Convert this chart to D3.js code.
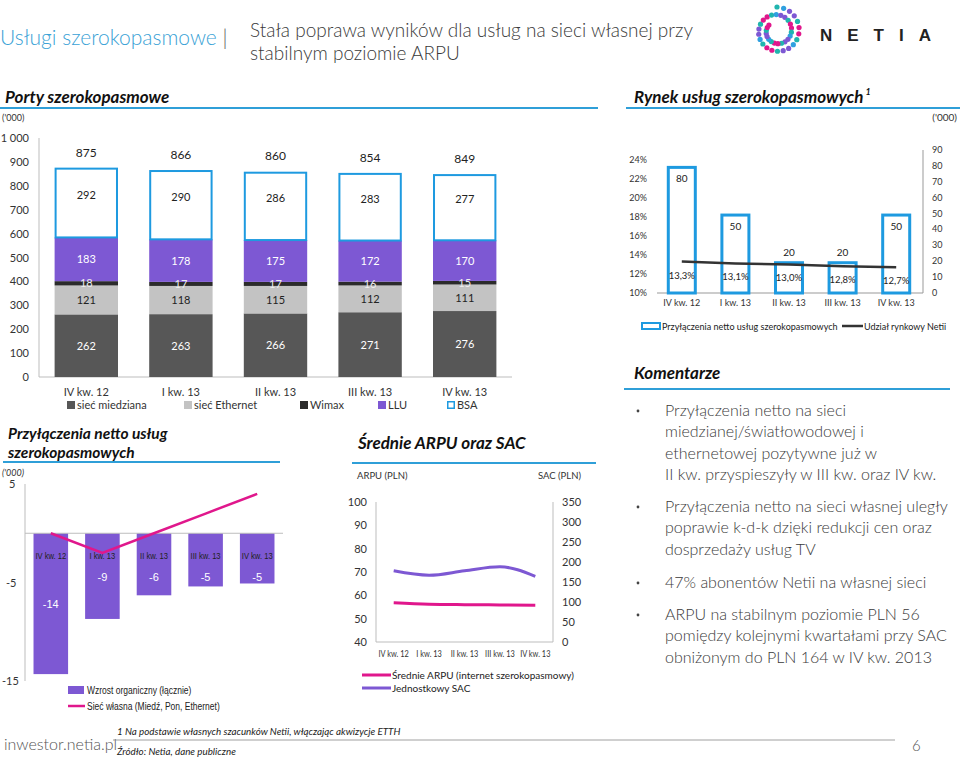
<!DOCTYPE html>
<html><head><meta charset="utf-8">
<script src="https://cdn.jsdelivr.net/npm/d3@7"></script>
<style>
body{margin:0;background:#fff;}
svg{display:block;font-family:Lato,"Open Sans",sans-serif;}
.narrow{font-family:"Liberation Sans",Arial,sans-serif;}
</style></head>
<body>
<script>
// ---------------- DATA ----------------
const quarters = ["IV kw. 12","I kw. 13","II kw. 13","III kw. 13","IV kw. 13"];
// Porty szerokopasmowe ('000)
const portSeries = ["sieć miedziana","sieć Ethernet","Wimax","LLU","BSA"];
const portsMiedz = [262,263,266,271,276];
const portsEth   = [121,118,115,112,111];
const portsWimax = [18,17,17,16,15];
const portsLLU   = [183,178,175,172,170];
const portsBSA   = [292,290,286,283,277];
const portsTotal = [875,866,860,854,849];
const portsTicks = [0,100,200,300,400,500,600,700,800,900,1000];
// Przyłączenia netto
const netOrganic = [-14.3,-8.7,-6.3,-5.4,-5.1];
const netOwn     = [0,-2,0,2,4];
const netTicks   = [5,-5,-15];
// ARPU / SAC
const arpu = [56.8,56.2,56.0,55.9,55.8];
const sac  = [178,167,178,188,164];
const arpuTicks = [40,50,60,70,80,90,100];
const sacTicks  = [0,50,100,150,200,250,300,350];
// Rynek
const marketAdds  = [80,50,20,20,50];
const marketShare = [13.3,13.1,13.0,12.8,12.7];
const shareTicks  = [10,12,14,16,18,20,22,24];
const addsTicks   = [0,10,20,30,40,50,60,70,80,90];
// Komentarze
const comments = [
 ["Przyłączenia netto na sieci","miedzianej/światłowodowej i","ethernetowej pozytywne już w","II kw. przyspieszyły w III kw. oraz IV kw."],
 ["Przyłączenia netto na sieci własnej uległy","poprawie k-d-k dzięki redukcji cen oraz","dosprzedaży usług TV"],
 ["47% abonentów Netii na własnej sieci"],
 ["ARPU na stabilnym poziomie PLN 56","pomiędzy kolejnymi kwartałami przy SAC","obniżonym do PLN 164 w IV kw. 2013"]
];

// ---------------- STYLE ----------------
const C = {blue:"#2f9fd8", barBlue:"#1e9ae0", purple:"#7d58d3", magenta:"#e0178c",
  dark:"#575757", light:"#c3c3c3", wimax:"#2b2b2b", text:"#333", axis:"#bdbdbd"};

const svg = d3.select("body").append("svg").attr("width",960).attr("height",759);
svg.append("rect").attr("width",960).attr("height",759).attr("fill","#fff");

// condense helper: narrows a text selection horizontally
function condense(sel, f){
  sel.each(function(){
    const w = this.getComputedTextLength();
    d3.select(this).attr("textLength", w*f).attr("lengthAdjust","spacingAndGlyphs");
  });
}

// ---------------- HEADER ----------------
const h = svg.append("text").attr("x",0).attr("y",45).attr("font-size",21).attr("font-weight",300);
h.append("tspan").attr("fill","#3aa2d6").text("Usługi szerokopasmowe");
h.append("tspan").attr("fill","#555").text(" |");
svg.append("text").attr("x",250).attr("y",37).attr("font-size",19).attr("font-weight",300).attr("fill","#3a3a3a")
  .text("Stała poprawa wyników dla usług na sieci własnej przy");
svg.append("text").attr("x",250).attr("y",60).attr("font-size",19).attr("font-weight",300).attr("fill","#3a3a3a")
  .text("stabilnym poziomie ARPU");

// logo
(function(){
  const g = svg.append("g");
  const cols = ["#20b5ae","#e0178c","#7d58d3","#2fa0e0","#e0178c","#20b5ae","#7d58d3"];
  const cx=777, cy=31;
  const n=42;
  for(let i=0;i<n;i++){
    const t=i/(n-1);
    const ang = -Math.PI/2 + t*Math.PI*2*1.85;
    const r = 24 - t*14;
    g.append("circle").attr("cx",cx+r*Math.cos(ang)).attr("cy",cy+r*Math.sin(ang))
      .attr("r",2.6).attr("fill",cols[(i*3)%7]);
  }
  svg.append("text").attr("x",820).attr("y",41).attr("font-size",17).attr("font-weight",700)
    .attr("letter-spacing",15).attr("fill","#222").attr("font-family","Liberation Sans, sans-serif").text("NETIA");
})();

function sectionTitle(lines,x,y,lineX1,lineX2,lineY,fs,gap){
  fs = fs||17; gap = gap||17;
  const ts = lines.map((t,i)=>svg.append("text").attr("x",x).attr("y",y+i*gap).attr("font-size",fs)
    .attr("font-weight",700).attr("font-style","italic").attr("fill","#111").text(t));
  svg.append("line").attr("x1",lineX1).attr("x2",lineX2).attr("y1",lineY).attr("y2",lineY)
    .attr("stroke",C.blue).attr("stroke-width",2);
  return ts;
}

// ---------------- PORTY ----------------
sectionTitle(["Porty szerokopasmowe"],5,103,0,598,108);
svg.append("text").attr("x",2).attr("y",121).attr("font-size",9).attr("fill","#333").text("('000)");
{
  const x = d3.scaleBand().domain(quarters).range([39,512]).paddingInner(0.33).paddingOuter(0.165);
  const y = d3.scaleLinear().domain([0,1000]).range([377,138]);
  const rows = quarters.map((q,i)=>({q,"sieć miedziana":portsMiedz[i],"sieć Ethernet":portsEth[i],
     "Wimax":portsWimax[i],"LLU":portsLLU[i],"BSA":portsBSA[i]}));
  const stack = d3.stack().keys(portSeries)(rows);
  const fills = {"sieć miedziana":C.dark,"sieć Ethernet":C.light,"Wimax":C.wimax,"LLU":C.purple,"BSA":"#fff"};
  const labCol = {"sieć miedziana":"#fff","sieć Ethernet":"#222","Wimax":"#eee","LLU":"#fff","BSA":"#222"};
  const g = svg.append("g");
  g.append("line").attr("x1",39).attr("x2",39).attr("y1",y(1000)).attr("y2",y(0)).attr("stroke",C.axis);
  g.append("line").attr("x1",39).attr("x2",512).attr("y1",y(0)).attr("y2",y(0)).attr("stroke",C.axis);
  const fmt = v => v>=1000 ? d3.format(",")(v).replace(","," ") : v;
  g.selectAll(".yt").data(portsTicks).join("text").attr("x",29).attr("y",d=>y(d)+4)
    .attr("text-anchor","end").attr("font-size",11).attr("fill",C.text).text(fmt);
  stack.forEach(s=>{
    const k=s.key;
    g.selectAll(null).data(s).join("rect")
      .attr("x",d=>x(d.data.q)+(k==="BSA"?1:0)).attr("width",x.bandwidth()-(k==="BSA"?2:0))
      .attr("y",d=>y(d[1])+(k==="BSA"?1:0)).attr("height",d=>y(d[0])-y(d[1])-(k==="BSA"?1:0))
      .attr("fill",fills[k]).attr("stroke",k==="BSA"?C.barBlue:"none").attr("stroke-width",k==="BSA"?2:0);
  });
  stack.forEach(s=>{
    const k=s.key;
    g.selectAll(null).data(s).join("text")
      .attr("x",d=>x(d.data.q)+x.bandwidth()/2)
      .attr("y",d=> (y(d[0])+y(d[1]))/2+ (k==="BSA"?-4:4))
      .attr("text-anchor","middle").attr("font-size",11).attr("fill",labCol[k])
      .text(d=>d[1]-d[0]);
  });
  g.selectAll(".tot").data(portsTotal).join("text")
    .attr("x",(d,i)=>x(quarters[i])+x.bandwidth()/2).attr("y",(d,i)=>y(d)-11)
    .attr("text-anchor","middle").attr("font-size",12).attr("fill","#222").text(d=>d);
  g.selectAll(".xl").data(quarters).join("text").attr("x",d=>x(d)+x.bandwidth()/2).attr("y",396)
    .attr("text-anchor","middle").attr("font-size",11).attr("fill",C.text).text(d=>d);
  const legX = [67,184,300,378,447];
  portSeries.forEach((k,i)=>{
    g.append("rect").attr("x",legX[i]+ (k==="BSA"?0.75:0)).attr("y",401+(k==="BSA"?0.75:0))
      .attr("width",k==="BSA"?6.5:8).attr("height",k==="BSA"?6.5:8)
      .attr("fill",fills[k]).attr("stroke",k==="BSA"?C.barBlue:"none").attr("stroke-width",1.5);
    g.append("text").attr("x",legX[i]+10).attr("y",409).attr("font-size",11).attr("fill",C.text).text(k);
  });
}

// ---------------- NETTO ----------------
sectionTitle(["Przyłączenia netto usług","szerokopasmowych"],8,439,3,280,462,15.5,18.5);
svg.append("text").attr("x",2).attr("y",476).attr("font-size",9).attr("font-style","italic").attr("fill","#333").text("('000)");
{
  const x = d3.scaleBand().domain(quarters).range([25,283]).paddingInner(0.33).paddingOuter(0.165);
  const y = d3.scaleLinear().domain([-15,5]).range([681,484]);
  const g = svg.append("g");
  g.append("line").attr("x1",25).attr("x2",25).attr("y1",y(5)).attr("y2",y(-15)).attr("stroke",C.axis);
  g.selectAll(".t").data(netTicks).join("text").attr("x",d=>d<-9?2:(d<0?6:9)).attr("y",d=>y(d)+4)
    .attr("font-size",11).attr("fill",C.text).text(d=>d);
  g.selectAll(".b").data(netOrganic).join("rect").attr("x",(d,i)=>x(quarters[i])).attr("width",x.bandwidth())
    .attr("y",y(0)).attr("height",d=>y(d)-y(0)).attr("fill",C.purple);
  g.append("line").attr("x1",25).attr("x2",283).attr("y1",y(0)).attr("y2",y(0)).attr("stroke",C.axis);
  g.selectAll(".xl").data(quarters).join("text").attr("class","narrow").attr("x",d=>x(d)+x.bandwidth()/2).attr("y",y(0)+26)
    .attr("text-anchor","middle").attr("font-size",9.5).attr("fill","#222").text(d=>d).call(condense,0.8);
  g.selectAll(".vl").data(netOrganic).join("text").attr("class","narrow")
    .attr("x",(d,i)=>x(quarters[i])+x.bandwidth()/2)
    .attr("y",d=>Math.max((y(0)+y(d))/2, y(0)+44)+4)
    .attr("text-anchor","middle").attr("font-size",11).attr("fill","#fff").text(d=>Math.round(d));
  const line = d3.line().x((d,i)=>x(quarters[i])+x.bandwidth()/2).y(d=>y(d));
  g.append("path").attr("d",line(netOwn)).attr("fill","none").attr("stroke",C.magenta).attr("stroke-width",2.5);
  g.append("rect").attr("x",68).attr("y",686).attr("width",16).attr("height",8).attr("fill",C.purple);
  g.append("text").attr("class","narrow").attr("x",87).attr("y",694).attr("font-size",10).attr("fill","#222")
    .text("Wzrost organiczny (łącznie)").call(condense,0.85);
  g.append("line").attr("x1",68).attr("x2",85).attr("y1",706).attr("y2",706).attr("stroke",C.magenta).attr("stroke-width",2.5);
  g.append("text").attr("class","narrow").attr("x",87).attr("y",710).attr("font-size",10).attr("fill","#222")
    .text("Sieć własna (Miedź, Pon, Ethernet)").call(condense,0.85);
}

// ---------------- ARPU / SAC ----------------
sectionTitle(["Średnie ARPU oraz SAC"],358,449,352,596,463);
{
  const g = svg.append("g");
  const x = d3.scalePoint().domain(quarters).range([376,553]).padding(0.5);
  const yA = d3.scaleLinear().domain([40,100]).range([642,502]);
  const yS = d3.scaleLinear().domain([0,350]).range([642,502]);
  g.append("text").attr("x",357).attr("y",479).attr("font-size",9.5).attr("fill",C.text).text("ARPU (PLN)");
  g.append("text").attr("x",538).attr("y",479).attr("font-size",9.5).attr("fill",C.text).text("SAC (PLN)");
  g.append("line").attr("x1",376).attr("x2",376).attr("y1",502).attr("y2",642).attr("stroke",C.axis);
  g.append("line").attr("x1",553).attr("x2",553).attr("y1",502).attr("y2",642).attr("stroke",C.axis);
  g.append("line").attr("x1",376).attr("x2",553).attr("y1",642).attr("y2",642).attr("stroke",C.axis);
  g.selectAll(".la").data(arpuTicks).join("text").attr("x",367).attr("y",d=>yA(d)+4).attr("text-anchor","end")
    .attr("font-size",11).attr("fill",C.text).text(d=>d);
  g.selectAll(".ls").data(sacTicks).join("text").attr("x",562).attr("y",d=>yS(d)+4)
    .attr("font-size",11).attr("fill",C.text).text(d=>d);
  g.selectAll(".xl").data(quarters).join("text").attr("x",d=>x(d)).attr("y",657).attr("text-anchor","middle")
    .attr("font-size",9).attr("fill",C.text).text(d=>d).call(condense,0.82);
  g.append("path").attr("d",d3.line().curve(d3.curveMonotoneX).x((d,i)=>x(quarters[i])).y(d=>yA(d))(arpu))
    .attr("fill","none").attr("stroke",C.magenta).attr("stroke-width",3);
  g.append("path").attr("d",d3.line().curve(d3.curveMonotoneX).x((d,i)=>x(quarters[i])).y(d=>yS(d))(sac))
    .attr("fill","none").attr("stroke",C.purple).attr("stroke-width",3);
  g.append("line").attr("x1",362).attr("x2",391).attr("y1",675).attr("y2",675).attr("stroke",C.magenta).attr("stroke-width",3);
  g.append("text").attr("x",392).attr("y",679).attr("font-size",10).attr("fill","#222").text("Średnie ARPU (internet szerokopasmowy)");
  g.append("line").attr("x1",362).attr("x2",391).attr("y1",688).attr("y2",688).attr("stroke",C.purple).attr("stroke-width",3);
  g.append("text").attr("x",392).attr("y",692).attr("font-size",10).attr("fill","#222").text("Jednostkowy SAC");
}

// ---------------- RYNEK ----------------
{
  const ts = sectionTitle(["Rynek usług szerokopasmowych"],634,103,626,960,108);
  const w = ts[0].node().getComputedTextLength();
  svg.append("text").attr("x",634+w+2).attr("y",95).attr("font-size",9).attr("font-style","italic")
    .attr("font-weight",700).attr("fill","#111").text("1");
}
svg.append("text").attr("x",957).attr("y",121).attr("text-anchor","end").attr("font-size",10).attr("fill","#333").text("('000)");
{
  const g = svg.append("g");
  const x = d3.scaleBand().domain(quarters).range([655,923]).paddingInner(0.44).paddingOuter(0.22);
  const yP = d3.scaleLinear().domain([10,25]).range([293,150]);
  const yN = d3.scaleLinear().domain([0,90]).range([293,150]);
  g.append("line").attr("x1",923).attr("x2",923).attr("y1",150).attr("y2",293).attr("stroke","#999");
  g.append("line").attr("x1",657).attr("x2",923).attr("y1",293).attr("y2",293).attr("stroke","#999");
  g.selectAll(".lp").data(shareTicks).join("text").attr("x",647).attr("y",d=>yP(d)+3).attr("text-anchor","end")
    .attr("font-size",9).attr("fill",C.text).text(d=>d+"%");
  g.selectAll(".rn").data(addsTicks).join("text").attr("x",932).attr("y",d=>yN(d)+3)
    .attr("font-size",9).attr("fill",C.text).text(d=>d);
  g.selectAll(".b").data(marketAdds).join("rect").attr("x",(d,i)=>x(quarters[i])+1.5).attr("width",x.bandwidth()-3)
    .attr("y",d=>yN(d)+1.5).attr("height",d=>yN(0)-yN(d)-1.5).attr("fill","#fff").attr("stroke",C.barBlue).attr("stroke-width",3);
  g.selectAll(".bl").data(marketAdds).join("text").attr("x",(d,i)=>x(quarters[i])+x.bandwidth()/2)
    .attr("y",d=> d>30 ? yN(d)+16 : yN(d)-5).attr("text-anchor","middle").attr("font-size",10).attr("fill","#222").text(d=>d);
  g.append("path").attr("d",d3.line().x((d,i)=>x(quarters[i])+x.bandwidth()/2).y(d=>yP(d))(marketShare))
    .attr("fill","none").attr("stroke","#333").attr("stroke-width",2.5);
  g.selectAll(".pl").data(marketShare).join("text").attr("x",(d,i)=>x(quarters[i])+x.bandwidth()/2)
    .attr("y",d=>yP(d)+17).attr("text-anchor","middle").attr("font-size",9.5).attr("fill","#222")
    .text(d=>d3.format(".1f")(d).replace(".",",")+"%");
  g.selectAll(".xl").data(quarters).join("text").attr("x",d=>x(d)+x.bandwidth()/2).attr("y",306)
    .attr("text-anchor","middle").attr("font-size",9).attr("fill",C.text).text(d=>d);
  g.append("rect").attr("x",642).attr("y",323).attr("width",18).attr("height",6).attr("fill","#fff")
    .attr("stroke",C.barBlue).attr("stroke-width",2);
  g.append("text").attr("x",662).attr("y",330).attr("font-size",9).attr("fill","#222").text("Przyłączenia netto usług szerokopasmowych");
  g.append("line").attr("x1",842).attr("x2",863).attr("y1",326).attr("y2",326).attr("stroke","#333").attr("stroke-width",2.5);
  g.append("text").attr("x",864).attr("y",330).attr("font-size",9).attr("fill","#222").text("Udział rynkowy Netii");
}

// ---------------- KOMENTARZE ----------------
sectionTitle(["Komentarze"],634,379,624,950,389);
{
  const starts = [416,512,588,620];
  comments.forEach((lines,bi)=>{
    svg.append("circle").attr("cx",638).attr("cy",starts[bi]-5).attr("r",1.4).attr("fill","#444");
    lines.forEach((t,li)=>svg.append("text").attr("x",665).attr("y",starts[bi]+li*21.4)
      .attr("font-size",16).attr("font-weight",300).attr("fill","#3a3a3a").text(t));
  });
}

// ---------------- FOOTER ----------------
svg.append("text").attr("x",4).attr("y",750).attr("font-size",16).attr("font-weight",300).attr("fill","#555").text("inwestor.netia.pl");
svg.append("line").attr("x1",113).attr("x2",895).attr("y1",740).attr("y2",740).attr("stroke","#888").attr("stroke-width",0.8);
svg.append("text").attr("x",117).attr("y",735).attr("font-size",9.8).attr("font-style","italic").attr("fill","#222")
  .text("1 Na podstawie własnych szacunków Netii, włączając akwizycje ETTH");
svg.append("text").attr("x",117).attr("y",755).attr("font-size",9.8).attr("font-style","italic").attr("fill","#222")
  .text("Źródło: Netia, dane publiczne");
svg.append("text").attr("x",912).attr("y",751).attr("font-size",15).attr("font-weight",300).attr("fill","#555").text("6");
</script>
</body></html>
